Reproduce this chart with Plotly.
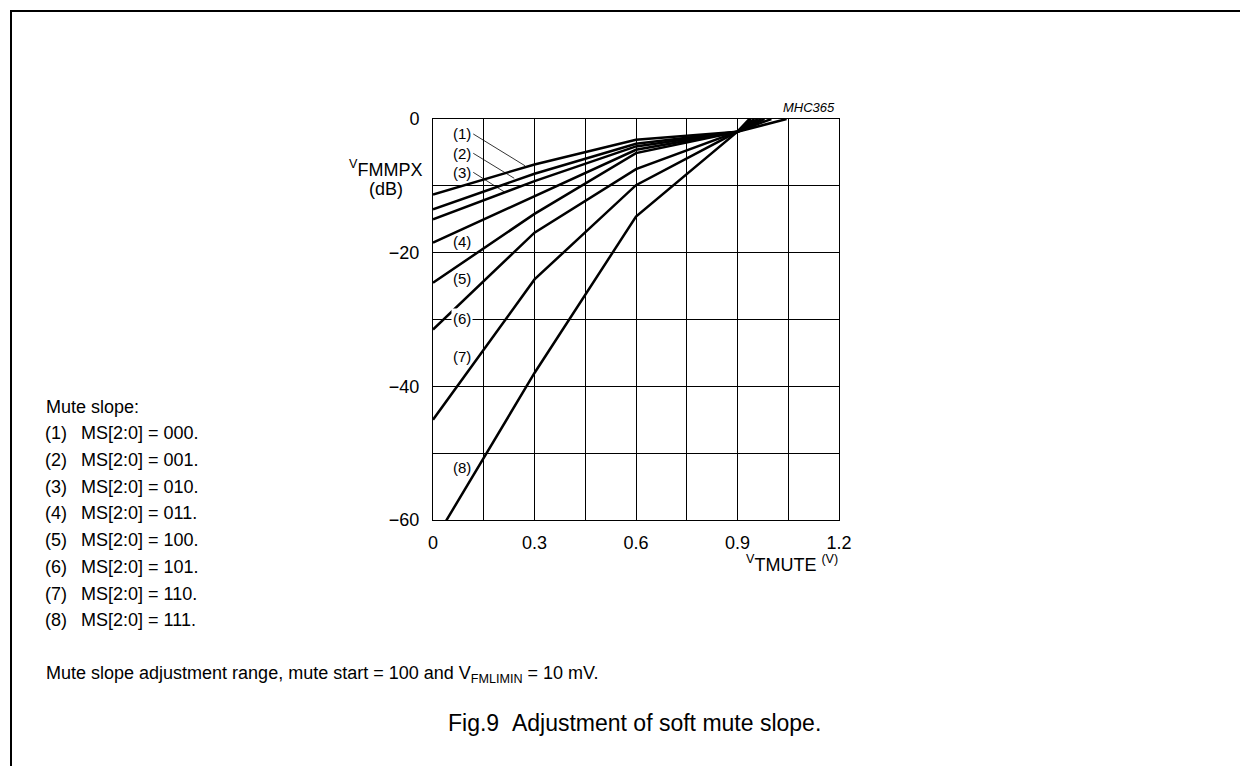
import plotly.graph_objects as go

# ---- data ----
x_break = [0.0, 0.3, 0.6, 0.9]
curve_labels = ["(1)", "(2)", "(3)", "(4)", "(5)", "(6)", "(7)", "(8)"]
ms1 = [-11.3, -6.8, -3.1, -1.9]
ms2 = [-13.5, -8.2, -3.7, -1.9]
ms3 = [-15.0, -9.3, -4.1, -1.9]
ms4 = [-18.5, -11.5, -4.6, -1.9]
ms5 = [-24.5, -14.2, -5.1, -1.9]
ms6 = [-31.5, -17.0, -7.5, -1.9]
ms7 = [-45.0, -24.0, -9.9, -1.9]
ms8 = [-63.4, -38.0, -14.6, -1.9]
end_x = [1.045, 1.0, 0.98, 0.97, 0.96, 0.95, 0.94, 0.935]   # where each curve reaches 0 dB
end_y = 0.0

legend_title = "Mute slope:"
legend_codes = ["000", "001", "010", "011", "100", "101", "110", "111"]

x_ticks = [0, 0.3, 0.6, 0.9, 1.2]
x_ticktext = ["0", "0.3", "0.6", "0.9", "1.2"]
y_ticks = [0, -20, -40, -60]
y_ticktext = ["0", "\u221220", "\u221240", "\u221260"]

FONT = "Liberation Sans, Arial, Helvetica, sans-serif"

# page offset (body margin) and figure size
OFF = 8
W, H = 1248 - OFF, 766 - OFF
# plot area in page pixels
L, R, T, B = 433, 839, 119, 520


def px(xp):
    return (xp - L) / (R - L)


def py(yp):
    return (B - yp) / (B - T)


fig = go.Figure()
all_curves = [ms1, ms2, ms3, ms4, ms5, ms6, ms7, ms8]
for ys, ex, name in zip(all_curves, end_x, curve_labels):
    fig.add_trace(go.Scatter(
        x=x_break + [ex], y=ys + [end_y], mode="lines", name=name,
        line=dict(color="black", width=2.5), showlegend=False, hoverinfo="skip"))

# curve labels
label_pos = [
    ("(1)", 0.085, -2.24, False),
    ("(2)", 0.085, -5.13, False),
    ("(3)", 0.085, -7.98, False),
    ("(4)", 0.085, -18.36, False),
    ("(5)", 0.085, -23.84, False),
    ("(6)", 0.085, -29.9, True),
    ("(7)", 0.085, -35.57, False),
    ("(8)", 0.085, -52.1, False),
]
annotations = []
for t, x, y, bg in label_pos:
    annotations.append(dict(x=x, y=y, xref="x", yref="y", text=t, showarrow=False,
                            font=dict(family=FONT, size=15, color="black"),
                            bgcolor="white" if bg else "rgba(0,0,0,0)", borderpad=1))

shapes = []
# leader lines for (1)-(3)
leaders = [((0.119, -2.24), (0.272, -7.0)),
           ((0.119, -5.13), (0.240, -8.87)),
           ((0.119, -7.98), (0.210, -10.88))]
for (x0, y0), (x1, y1) in leaders:
    shapes.append(dict(type="line", xref="x", yref="y", x0=x0, y0=y0, x1=x1, y1=y1,
                       line=dict(color="black", width=0.8)))

# outer frame (top and left)
shapes.append(dict(type="line", xref="paper", yref="paper", x0=px(10), y0=py(11), x1=px(1260), y1=py(11),
                   line=dict(color="black", width=2)))
shapes.append(dict(type="line", xref="paper", yref="paper", x0=px(11), y0=py(10), x1=px(11), y1=py(780),
                   line=dict(color="black", width=2)))

# axis titles
annotations.append(dict(xref="paper", yref="paper", x=px(424), y=py(168), xanchor="right", yanchor="middle",
                        text="<sup>V</sup>FMMPX", showarrow=False,
                        font=dict(family=FONT, size=18, color="black")))
annotations.append(dict(xref="paper", yref="paper", x=px(386), y=py(189), xanchor="center", yanchor="middle",
                        text="(dB)", showarrow=False,
                        font=dict(family=FONT, size=18, color="black")))
annotations.append(dict(xref="paper", yref="paper", x=px(840), y=py(563), xanchor="right", yanchor="middle",
                        text="<sup>V</sup>TMUTE <sup>(V)</sup>", showarrow=False,
                        font=dict(family=FONT, size=18, color="black")))
annotations.append(dict(xref="paper", yref="paper", x=px(837), y=py(107), xanchor="right", yanchor="middle",
                        text="<i>MHC365</i>", showarrow=False,
                        font=dict(family=FONT, size=13, color="black")))

# legend text block
annotations.append(dict(xref="paper", yref="paper", x=px(44), y=py(406.7), xanchor="left", yanchor="middle",
                        text=legend_title, showarrow=False,
                        font=dict(family=FONT, size=18, color="black")))
for i, (lab, code) in enumerate(zip(curve_labels, legend_codes)):
    yy = 433.3 + i * 26.7
    annotations.append(dict(xref="paper", yref="paper", x=px(43), y=py(yy), xanchor="left", yanchor="middle",
                            text=lab, showarrow=False, font=dict(family=FONT, size=18, color="black")))
    annotations.append(dict(xref="paper", yref="paper", x=px(79), y=py(yy), xanchor="left", yanchor="middle",
                            text="MS[2:0] = " + code + ".", showarrow=False,
                            font=dict(family=FONT, size=18, color="black")))

annotations.append(dict(xref="paper", yref="paper", x=px(44), y=py(674), xanchor="left", yanchor="middle",
                        text="Mute slope adjustment range, mute start = 100 and V<sub>FMLIMIN</sub> = 10 mV.",
                        showarrow=False, font=dict(family=FONT, size=18, color="black")))
annotations.append(dict(xref="paper", yref="paper", x=px(634), y=py(723), xanchor="center", yanchor="middle",
                        text="Fig.9 \u00a0Adjustment of soft mute slope.", showarrow=False,
                        font=dict(family=FONT, size=23, color="black")))

fig.update_layout(
    width=W, height=H,
    margin=dict(l=L - OFF, r=W - (R - OFF), t=T - OFF, b=H - (B - OFF), pad=0),
    paper_bgcolor="white", plot_bgcolor="white",
    font=dict(family=FONT, size=18, color="black"),
    annotations=annotations, shapes=shapes,
    xaxis=dict(range=[0, 1.2], tickmode="array", tickvals=x_ticks, ticktext=x_ticktext,
               showgrid=True, gridcolor="black", gridwidth=1,
               minor=dict(tickmode="linear", tick0=0, dtick=0.15, showgrid=True, gridcolor="black", gridwidth=1),
               showline=True, linecolor="black", linewidth=1, mirror=True,
               ticks="", ticklabelstandoff=6, zeroline=False,
               tickfont=dict(family=FONT, size=18, color="black")),
    yaxis=dict(range=[-60, 0], tickmode="array", tickvals=y_ticks, ticktext=y_ticktext,
               showgrid=True, gridcolor="black", gridwidth=1,
               minor=dict(tickmode="linear", tick0=0, dtick=10, showgrid=True, gridcolor="black", gridwidth=1),
               showline=True, linecolor="black", linewidth=1, mirror=True,
               ticks="", ticklabelstandoff=9, zeroline=False,
               tickfont=dict(family=FONT, size=18, color="black")),
)

fig.write_html("out.html")
